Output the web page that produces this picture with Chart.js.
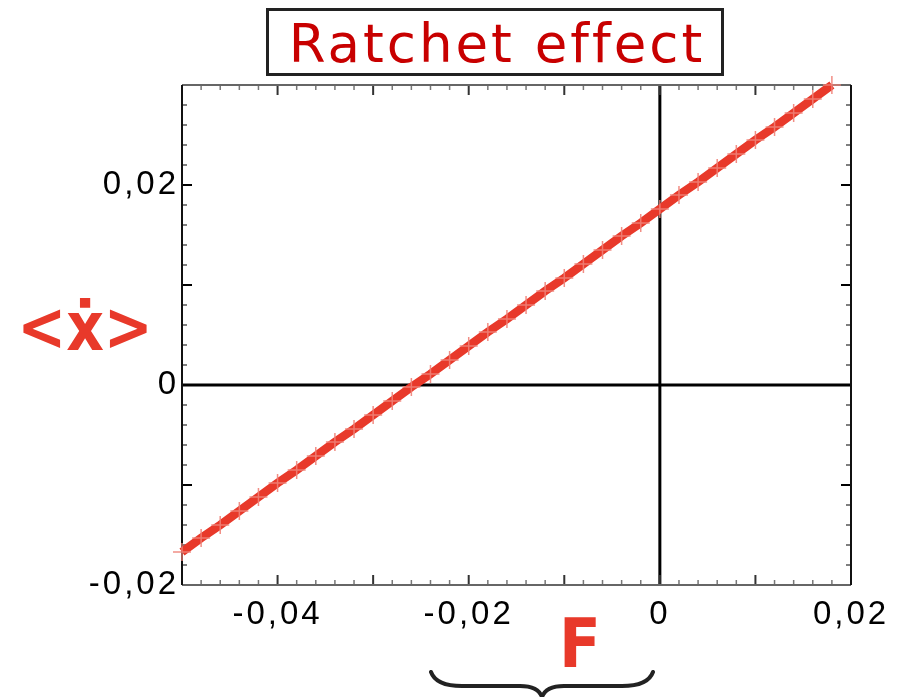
<!DOCTYPE html>
<html>
<head>
<meta charset="utf-8">
<script src="https://cdn.jsdelivr.net/npm/chart.js@4.4.1/dist/chart.umd.min.js"></script>
<style>
  html, body { margin: 0; padding: 0; background: #fff; }
  #wrap { width: 902px; height: 697px; }
</style>
</head>
<body>
<div id="wrap"><canvas id="ratchetChart" width="902" height="697"></canvas></div>
<script>
// mean velocity <x'> against applied force F
const forceValues = [
  -0.050, -0.048, -0.046, -0.044, -0.042, -0.040, -0.038, -0.036, -0.034, -0.032,
  -0.030, -0.028, -0.026, -0.024, -0.022, -0.020, -0.018, -0.016, -0.014, -0.012,
  -0.010, -0.008, -0.006, -0.004, -0.002, 0.000, 0.002, 0.004, 0.006, 0.008,
  0.010, 0.012, 0.014, 0.016, 0.018
];
const velocityValues = [
  -0.0167, -0.0153, -0.0140, -0.0126, -0.0112, -0.0098, -0.0085, -0.0071, -0.0057, -0.0044,
  -0.0030, -0.0016, -0.0002, 0.0011, 0.0025, 0.0039, 0.0053, 0.0066, 0.0080, 0.0094,
  0.0107, 0.0121, 0.0135, 0.0149, 0.0162, 0.0176, 0.0190, 0.0203, 0.0217, 0.0231,
  0.0245, 0.0258, 0.0272, 0.0286, 0.0300
];

const xTickValues = [-0.04, -0.02, 0, 0.02];
const xTickLabels = ['-0,04', '-0,02', '0', '0,02'];
const yTickValues = [-0.02, 0, 0.02];
const yTickLabels = ['-0,02', '0', '0,02'];

const lineRed = '#e8392a';

// frame, inward ticks and the zero axes, under the data
const framePlugin = {
  id: 'frame',
  beforeDraw(chart) {
    chart.ctx.letterSpacing = '3px';
  },
  beforeDatasetsDraw(chart) {
    const { ctx, chartArea: a, scales: { x, y } } = chart;
    ctx.save();
    ctx.letterSpacing = '0px';

    // zero lines
    ctx.strokeStyle = '#000';
    ctx.lineWidth = 3;
    ctx.beginPath();
    ctx.moveTo(a.left, y.getPixelForValue(0));
    ctx.lineTo(a.right, y.getPixelForValue(0));
    ctx.moveTo(x.getPixelForValue(0), a.top);
    ctx.lineTo(x.getPixelForValue(0), a.bottom);
    ctx.stroke();

    // ticks every 0.002, longer every 0.01
    for (let i = -25; i <= 10; i++) {
      const px = x.getPixelForValue(i * 0.002);
      const major = i % 5 === 0;
      const len = major ? 10 : 5;
      ctx.strokeStyle = major ? '#333' : '#777';
      ctx.lineWidth = major ? 2 : 1.5;
      ctx.beginPath();
      ctx.moveTo(px, a.bottom); ctx.lineTo(px, a.bottom - len);
      ctx.moveTo(px, a.top); ctx.lineTo(px, a.top + len);
      ctx.stroke();
    }
    for (let i = -10; i <= 15; i++) {
      const py = y.getPixelForValue(i * 0.002);
      const major = i % 5 === 0;
      const len = major ? 10 : 5;
      ctx.strokeStyle = major ? '#000' : '#555';
      ctx.lineWidth = major ? 2 : 1.5;
      ctx.beginPath();
      ctx.moveTo(a.left, py); ctx.lineTo(a.left + len, py);
      ctx.moveTo(a.right, py); ctx.lineTo(a.right - len, py);
      ctx.stroke();
    }

    // frame
    ctx.lineWidth = 2;
    ctx.strokeStyle = '#666';
    ctx.beginPath();
    ctx.moveTo(a.left, a.top); ctx.lineTo(a.right, a.top);
    ctx.moveTo(a.left, a.bottom); ctx.lineTo(a.right, a.bottom);
    ctx.stroke();
    ctx.strokeStyle = '#111';
    ctx.beginPath();
    ctx.moveTo(a.left, a.top); ctx.lineTo(a.left, a.bottom);
    ctx.moveTo(a.right, a.top); ctx.lineTo(a.right, a.bottom);
    ctx.stroke();
    ctx.restore();
  },
  afterDraw(chart) {
    const ctx = chart.ctx;
    ctx.save();

    // boxed title
    ctx.strokeStyle = '#222';
    ctx.lineWidth = 3;
    ctx.strokeRect(267.5, 9.5, 455, 65);
    ctx.fillStyle = '#c80000';
    ctx.font = '53px "DejaVu Sans"';
    ctx.letterSpacing = '3px';
    ctx.textAlign = 'center';
    ctx.textBaseline = 'alphabetic';
    ctx.fillText('Ratchet effect', 497, 62);

    // axis titles
    ctx.letterSpacing = '0px';
    ctx.fillStyle = lineRed;
    ctx.font = 'bold 68px "DejaVu Sans"';
    ctx.save();
    ctx.translate(85, 350);
    ctx.scale(0.86, 1);
    ctx.fillText('<ẋ>', 0, 0);
    ctx.restore();

    ctx.save();
    ctx.translate(580, 667);
    ctx.scale(0.9, 1);
    ctx.fillText('F', 0, 0);
    ctx.restore();

    // brace under the negative-force range
    ctx.strokeStyle = '#222';
    ctx.lineWidth = 4;
    ctx.lineCap = 'round';
    ctx.beginPath();
    ctx.moveTo(431, 672);
    ctx.quadraticCurveTo(436, 686, 462, 686);
    ctx.lineTo(520, 686);
    ctx.quadraticCurveTo(538, 686, 542, 697);
    ctx.quadraticCurveTo(546, 686, 564, 686);
    ctx.lineTo(622, 686);
    ctx.quadraticCurveTo(648, 686, 653, 672);
    ctx.stroke();
    ctx.restore();
  }
};

const ctx = document.getElementById('ratchetChart').getContext('2d');

new Chart(ctx, {
  type: 'scatter',
  data: {
    datasets: [{
      data: forceValues.map((f, i) => ({ x: f, y: velocityValues[i] })),
      showLine: true,
      borderColor: lineRed,
      borderWidth: 8.5,
      pointStyle: 'cross',
      pointRadius: 9,
      pointBorderColor: 'rgba(240, 130, 120, 0.9)',
      pointBorderWidth: 1.5,
      clip: false
    }]
  },
  options: {
    responsive: false,
    animation: false,
    devicePixelRatio: 1,
    layout: { padding: { left: 0, top: 85, right: 51, bottom: 0 } },
    plugins: {
      legend: { display: false },
      tooltip: { enabled: false }
    },
    scales: {
      x: {
        type: 'linear',
        min: -0.05,
        max: 0.02,
        grid: { display: false, drawTicks: false },
        border: { display: false },
        afterBuildTicks: s => { s.ticks = xTickValues.map(v => ({ value: v })); },
        afterFit: s => { s.height = 112; },
        ticks: {
          autoSkip: false,
          maxRotation: 0,
          padding: 10,
          color: '#000',
          font: { family: 'Liberation Sans', size: 33 },
          callback: (v, i) => xTickLabels[i]
        }
      },
      y: {
        type: 'linear',
        min: -0.02,
        max: 0.03,
        grid: { display: false, drawTicks: false },
        border: { display: false },
        afterBuildTicks: s => { s.ticks = yTickValues.map(v => ({ value: v })); },
        afterFit: s => { s.width = 182; },
        ticks: {
          autoSkip: false,
          padding: 3,
          color: '#000',
          font: { family: 'Liberation Sans', size: 33 },
          callback: (v, i) => yTickLabels[i]
        }
      }
    }
  },
  plugins: [framePlugin]
});
</script>
</body>
</html>
